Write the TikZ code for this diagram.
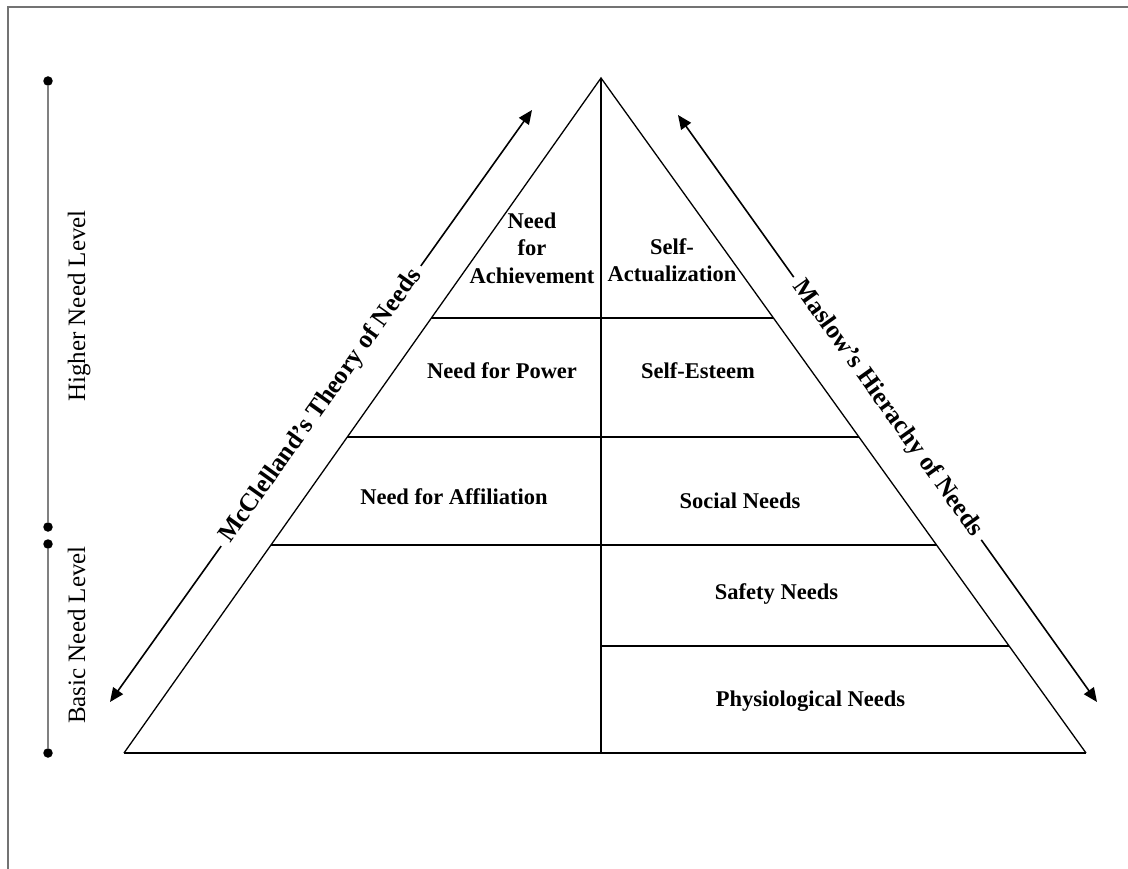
\documentclass[tikz,border=0pt]{standalone}
\usepackage{fontspec}
\setmainfont{Liberation Serif}
\usetikzlibrary{arrows.meta,calc}

\begin{document}
\begin{tikzpicture}[x=1pt,y=-1pt,
  edge/.style={line width=1.3pt,black},
  tier/.style={line width=1.7pt,black},
  scaleline/.style={line width=1.6pt,black!50},
  frameline/.style={line width=1.8pt,black!55},
  tick/.style={circle,fill=black,inner sep=0pt,minimum size=9.5pt},
  lvl/.style={font=\fontsize{22.5}{27.5}\selectfont\bfseries,inner sep=0pt,align=center},
  side/.style={font=\fontsize{25}{30}\selectfont,rotate=90,inner sep=0pt,anchor=base},
  theory/.style={font=\fontsize{25.5}{30}\selectfont\bfseries,fill=white,inner xsep=7pt,inner ysep=1pt,sloped,midway},
  dbl/.style={line width=1.6pt,{Triangle[length=14pt,width=12pt]}-{Triangle[length=14pt,width=12pt]}}
]
\useasboundingbox (0,0) rectangle (1128,869);

% outer frame
\draw[frameline] (1128,7) -- (8,7) -- (8,869);

% need-level scale
\node[tick] (t1) at (48,81) {};
\node[tick] (t2) at (48,527) {};
\node[tick] (t3) at (48,544) {};
\node[tick] (t4) at (48,753) {};
\draw[scaleline] (t1) -- (t2);
\draw[scaleline] (t3) -- (t4);
\node[side] (hi) at (85,306) {Higher Need Level};
\node[side] (lo) at (85,635) {Basic Need Level};

% theory arrows
\coordinate (mcLo) at (110,702);
\coordinate (mcHi) at (532,110);
\draw[dbl] (mcLo) -- node[theory] (mcc) {McClelland’s Theory of Needs} (mcHi);
\coordinate (maHi) at (678,115);
\coordinate (maLo) at (1097,702);
\draw[dbl] (maHi) -- node[theory] (mas) {Maslow’s Hierachy of Needs} (maLo);

% pyramid outline
\coordinate (apex) at (601,78);
\coordinate (bl) at (124,753);
\coordinate (br) at (1086,753);
\coordinate (bm) at (601,753);
\draw[edge] (bl) -- (apex) -- (br);
\draw[tier] (bl) -- (br);
\draw[tier] (apex) -- (bm);

% tier boundaries
\coordinate (aL) at ($(apex)!0.35556!(bl)$);
\coordinate (aR) at ($(apex)!0.35556!(br)$);
\coordinate (bL) at ($(apex)!0.53185!(bl)$);
\coordinate (bR) at ($(apex)!0.53185!(br)$);
\coordinate (cL) at ($(apex)!0.69185!(bl)$);
\coordinate (cR) at ($(apex)!0.69185!(br)$);
\coordinate (dM) at ($(apex)!0.84148!(bm)$);
\coordinate (dR) at ($(apex)!0.84148!(br)$);
\draw[tier] (aL) -- (aR);
\draw[tier] (bL) -- (bR);
\draw[tier] (cL) -- (cR);
\draw[tier] (dM) -- (dR);

% McClelland's needs
\node[lvl] (ach) at (532,248) {Need\\for\\Achievement};
\node[lvl,anchor=base] (pow) at (502,378) {Need for Power};
\node[lvl,anchor=base] (aff) at (454,504) {Need for Affiliation};

% Maslow's needs
\node[lvl] (act) at (672,260) {Self-\\Actualization};
\node[lvl,anchor=base] (est) at (698,378) {Self-Esteem};
\node[lvl,anchor=base] (soc) at (740,508) {Social Needs};
\node[lvl,anchor=base] (saf) at (776.5,599) {Safety Needs};
\node[lvl,anchor=base] (phy) at (810.5,706) {Physiological Needs};
\end{tikzpicture}
\end{document}
